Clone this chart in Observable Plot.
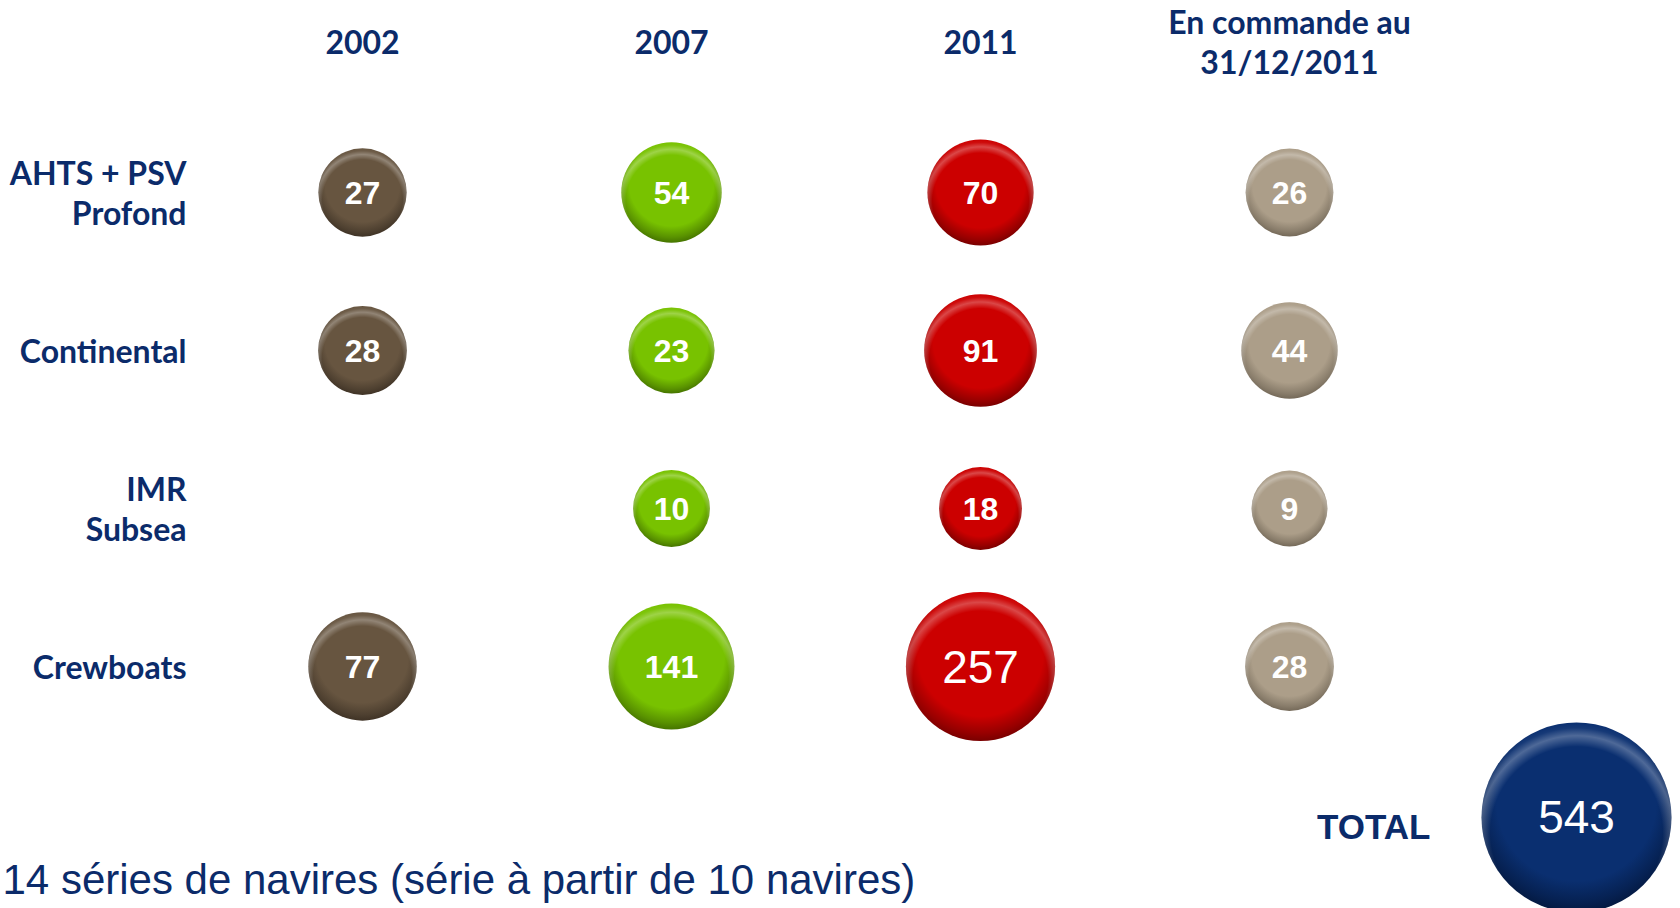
<!DOCTYPE html>
<html>
<head>
<meta charset="utf-8">
<script src="https://cdn.jsdelivr.net/npm/d3@7"></script>
<script src="https://cdn.jsdelivr.net/npm/@observablehq/plot@0.6"></script>
<style>
  html, body { margin: 0; padding: 0; background: #fff; overflow: hidden; }
  #chart svg { display: block; overflow: hidden; }
</style>
</head>
<body>
<div id="chart"></div>
<script>
// ---- data ----
const rows = ["AHTS + PSV\nProfond", "Continental", "IMR\nSubsea", "Crewboats"];
const columns = ["2002", "2007", "2011", "En commande au\n31/12/2011"];
const v2002 = [27, 28, null, 77];
const v2007 = [54, 23, 10, 141];
const v2011 = [70, 91, 18, 257];
const vCommande = [26, 44, 9, 28];
const total = [543];
const totalLabel = ["TOTAL"];
const caption = ["14 séries de navires (série à partir de 10 navires)"];

const series = [v2002, v2007, v2011, vCommande];
const colors = ["#675540", "#78c200", "#cc0000", "#ac9e89"];
const darks = ["#3a2e22", "#3f6a00", "#6e0000", "#6d6252"];
const ids = ["g2002", "g2007", "g2011", "gcmd"];

const cells = [];
series.forEach((vals, ci) => vals.forEach((v, ri) => {
  if (v != null) cells.push({col: columns[ci], row: rows[ri], v, ci});
}));

const navy = "#0b2b6a";
const headFont = "Lato, 'Noto Sans', sans-serif";
const numFont = "'Liberation Sans', Arial, sans-serif";

const marks = [];
// bubbles
series.forEach((_, ci) => {
  const data = cells.filter(d => d.ci === ci);
  marks.push(Plot.dot(data, {x: "col", y: "row", r: "v", fill: `url(#${ids[ci]})`, stroke: "none"}));
  marks.push(Plot.dot(data, {x: "col", y: "row", r: "v", fill: "url(#hl)", stroke: "none"}));
});
// bubble labels
marks.push(Plot.text(cells.filter(d => d.v < 200), {
  x: "col", y: "row", text: d => String(d.v), fill: "white",
  fontSize: 32, fontWeight: "bold", fontFamily: numFont, dy: 1
}));
marks.push(Plot.text(cells.filter(d => d.v >= 200), {
  x: "col", y: "row", text: d => String(d.v), fill: "white",
  fontSize: 46, fontWeight: "normal", fontFamily: numFont, dy: 2
}));
// column headers
marks.push(Plot.text(columns, {
  x: d => d, frameAnchor: "top", dy: 41,
  text: d => d, fill: navy, fontSize: 32, fontWeight: "bold", fontFamily: headFont,
  lineHeight: 1.25, lineAnchor: "middle", textAnchor: "middle"
}));
// row labels
marks.push(Plot.text(rows, {
  y: d => d, frameAnchor: "left", dx: 186, textAnchor: "end",
  text: d => d, fill: navy, fontSize: 32, fontWeight: "bold", fontFamily: headFont,
  lineHeight: 1.25, lineAnchor: "middle"
}));
// total bubble
marks.push(Plot.dot(total, {r: d => d, frameAnchor: "bottom-right", dx: -104, dy: -91, fill: "url(#gtot)"}));
marks.push(Plot.dot(total, {r: d => d, frameAnchor: "bottom-right", dx: -104, dy: -91, fill: "url(#hl)"}));
marks.push(Plot.text(total, {
  text: d => String(d), frameAnchor: "bottom-right", dx: -104, dy: -90,
  textAnchor: "middle", lineAnchor: "middle",
  fill: "white", fontSize: 46, fontFamily: numFont
}));
marks.push(Plot.text(totalLabel, {
  text: d => d, frameAnchor: "bottom-right", dx: -250, dy: -81, textAnchor: "end", lineAnchor: "middle",
  fill: navy, fontSize: 35, fontWeight: "bold", fontFamily: numFont
}));
// caption
marks.push(Plot.text(caption, {
  text: d => d, frameAnchor: "bottom-left", dx: 2, dy: -28, textAnchor: "start", lineAnchor: "middle",
  fill: navy, fontSize: 42, fontFamily: numFont
}));

const chart = Plot.plot({
  width: 1680,
  height: 908,
  margin: 0,
  style: {background: "white", overflow: "hidden"},
  x: {type: "point", domain: columns, range: [361, 1290], padding: 0, axis: null},
  y: {type: "point", domain: rows, range: [191, 666], padding: 0, axis: null},
  r: {type: "pow", exponent: 0.5, domain: [9, 543], range: [38, 95]},
  marks
});

// gradients for the glossy bubbles
const defs = d3.select(chart).insert("defs", ":first-child");
function addGrad(id, base, dark) {
  const g = defs.append("radialGradient").attr("id", id)
    .attr("cx", "50%").attr("cy", "42%").attr("r", "60%").attr("fx", "50%").attr("fy", "40%");
  g.append("stop").attr("offset", "0%").attr("stop-color", base);
  g.append("stop").attr("offset", "70%").attr("stop-color", base);
  g.append("stop").attr("offset", "88%").attr("stop-color", d3.interpolateRgb(base, dark)(0.55));
  g.append("stop").attr("offset", "100%").attr("stop-color", dark);
}
ids.forEach((id, i) => addGrad(id, colors[i], darks[i]));
addGrad("gtot", "#0a2f70", "#03163a");
const hl = defs.append("radialGradient").attr("id", "hl")
  .attr("cx", "50%").attr("cy", "58%").attr("r", "58%");
hl.append("stop").attr("offset", "0%").attr("stop-color", "#fff").attr("stop-opacity", 0);
hl.append("stop").attr("offset", "78%").attr("stop-color", "#fff").attr("stop-opacity", 0);
hl.append("stop").attr("offset", "88%").attr("stop-color", "#fff").attr("stop-opacity", 0.28);
hl.append("stop").attr("offset", "95%").attr("stop-color", "#fff").attr("stop-opacity", 0.05);
hl.append("stop").attr("offset", "100%").attr("stop-color", "#fff").attr("stop-opacity", 0);

document.getElementById("chart").appendChild(chart);
</script>
</body>
</html>
